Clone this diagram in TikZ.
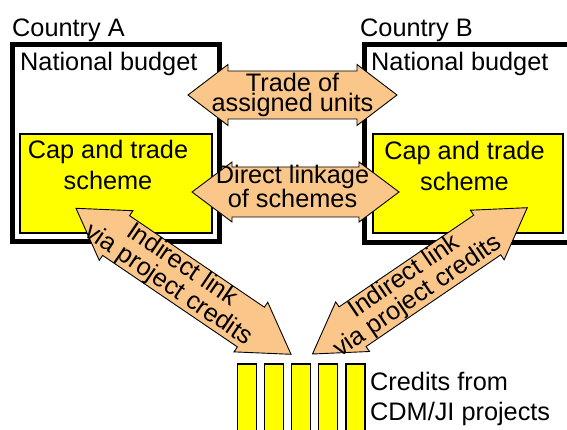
\documentclass[tikz,border=0pt]{standalone}
\usepackage{fontspec}
\setmainfont{Liberation Sans}
\usetikzlibrary{calc}
\definecolor{arrowfill}{RGB}{251,198,138}
\definecolor{schemeyellow}{RGB}{255,255,0}
\tikzset{
  lbl/.style={inner sep=0pt, font=\fontsize{25.3}{30}\selectfont},
  captext/.style={inner sep=0pt, align=center, font=\fontsize{25.3}{31}\selectfont},
  credtext/.style={inner sep=0pt, align=left, font=\fontsize{25.3}{30}\selectfont},
  arrowtext/.style={inner sep=0pt, align=center, font=\fontsize{25.3}{20.5}\selectfont},
  diagtext/.style={inner sep=0pt, align=center, font=\fontsize{25.3}{24}\selectfont},
  countrybox/.style={draw=black, line width=5pt, fill=white, inner sep=0pt},
  schemebox/.style={draw=black, line width=1.2pt, fill=schemeyellow, inner sep=0pt},
  creditbar/.style={draw=black, line width=1.5pt, fill=schemeyellow, minimum width=19pt, minimum height=90pt, inner sep=0pt},
  fatarrow/.style={draw=black, line width=0.9pt, fill=arrowfill, line join=miter},
}
% #1,#2 tip coordinates, #3 shaft half width, #4 head half width, #5 head length
\newcommand{\fatdouble}[5]{%
  \filldraw[fatarrow] (#1)
    -- ($($(#1)!#5!(#2)$)!#4!90:(#2)$)
    -- ($($(#1)!#5!(#2)$)!#3!90:(#2)$)
    -- ($($(#2)!#5!(#1)$)!#3!-90:(#1)$)
    -- ($($(#2)!#5!(#1)$)!#4!-90:(#1)$)
    -- (#2)
    -- ($($(#2)!#5!(#1)$)!#4!90:(#1)$)
    -- ($($(#2)!#5!(#1)$)!#3!90:(#1)$)
    -- ($($(#1)!#5!(#2)$)!#3!-90:(#2)$)
    -- ($($(#1)!#5!(#2)$)!#4!-90:(#2)$)
    -- cycle;}
\begin{document}
\begin{tikzpicture}[x=1pt,y=-1pt]
\path[use as bounding box, clip] (0,0) rectangle (567,430);
\fill[white] (0,0) rectangle (567,430);
% country boxes
\node[countrybox, minimum width=207.5pt, minimum height=197.5pt] (boxA) at (115.75,143.25) {};
\node[countrybox, minimum width=236pt, minimum height=198pt] (boxB) at (482,143.5) {};
% cap and trade schemes
\node[schemebox, minimum width=192pt, minimum height=99pt] (capA) at (116,183.5) {};
\node[schemebox, minimum width=190pt, minimum height=99pt] (capB) at (468,183.5) {};
% labels
\node[lbl, anchor=base west] (ctryA) at (12,36.5) {Country A};
\node[lbl, anchor=base west] (ctryB) at (360,36.5) {Country B};
\node[lbl, anchor=base west] (budA) at (20,70.7) {National budget};
\node[lbl, anchor=base west] (budB) at (371,71) {National budget};
\node[captext, anchor=base] (capAt) at (108,189.5) {Cap and trade\\scheme};
\node[captext, anchor=base] (capBt) at (464.5,191) {Cap and trade\\scheme};
% project credit bars
\foreach \i in {0,...,4}
  \node[creditbar, anchor=north] (bar\i) at (246.9+27.1*\i,363) {};
\node[credtext, anchor=base west] (credt) at (370,420) {Credits from\\CDM/JI projects};
% arrow tips
\coordinate (t1a) at (188,95);   \coordinate (t1b) at (397,95);
\coordinate (t2a) at (192,192);  \coordinate (t2b) at (399,192);
\coordinate (t3a) at (76,208.3); \coordinate (t3b) at (291,354.3);
\coordinate (t4a) at (312.5,354); \coordinate (t4b) at (527.3,207.7);
% fat double arrows
\fatdouble{t1a}{t1b}{24pt}{30.5pt}{40pt}
\fatdouble{t2a}{t2b}{25pt}{30pt}{40pt}
\fatdouble{t3a}{t3b}{24pt}{30pt}{48.5pt}
\fatdouble{t4a}{t4b}{24pt}{30pt}{48.5pt}
% arrow labels
\node[arrowtext, anchor=base] (lab1) at (292.5,112) {Trade of\\assigned units};
\node[arrowtext, anchor=base] (lab2) at (292.5,208) {Direct linkage\\of schemes};
\path (t3a) -- node[diagtext, sloped, pos=0.46] (lab3) {Indirect link\\via project credits} (t3b);
\path (t4a) -- node[diagtext, sloped, pos=0.46] (lab4) {Indirect link\\via project credits} (t4b);
\end{tikzpicture}
\end{document}
